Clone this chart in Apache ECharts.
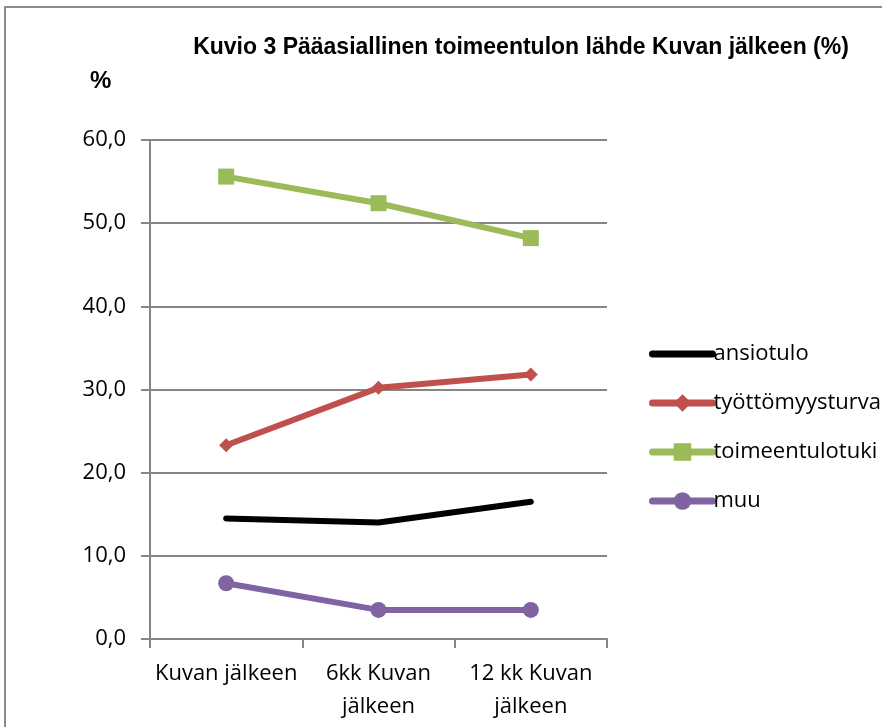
<!DOCTYPE html>
<html>
<head>
<meta charset="utf-8">
<script src="https://cdn.jsdelivr.net/npm/echarts@6/dist/echarts.min.js"></script>
<style>
  html, body { margin: 0; padding: 0; background: #fff; }
  #frame { position: absolute; left: 4px; top: 6px; width: 900px; height: 740px; border: 2px solid #8c8c8c; box-sizing: border-box; }
  #app { position: absolute; left: 0; top: 0; width: 882px; height: 727px; }
</style>
</head>
<body>
<div id="frame"></div>
<div id="app"></div>
<script>
const categories = ['Kuvan jälkeen', '6kk Kuvan\njälkeen', '12 kk Kuvan\njälkeen'];
const ansiotulo = [14.5, 14.0, 16.5];
const tyottomyysturva = [23.3, 30.2, 31.8];
const toimeentulotuki = [55.6, 52.4, 48.2];
const muu = [6.7, 3.5, 3.5];

const chart = echarts.init(document.getElementById('app'));

const font = 'Open Sans, Liberation Sans, sans-serif';
const axisGray = '#868686';

function line(name, data, color, symbol, size) {
  return {
    name: name,
    type: 'line',
    data: data,
    symbol: symbol,
    symbolSize: size,
    showSymbol: symbol !== 'none',
    lineStyle: { color: color, width: 6, cap: 'round' },
    itemStyle: { color: color },
    emphasis: { disabled: true },
    animation: false
  };
}

chart.setOption({
  animation: false,
  title: [
    {
      text: 'Kuvio 3 Pääasiallinen toimeentulon lähde Kuvan jälkeen (%)',
      left: 516, top: 31, textAlign: 'center',
      textStyle: { fontFamily: 'Liberation Sans, Arial, sans-serif', fontWeight: 'bold', fontSize: 23, color: '#000' }
    },
    {
      text: '%',
      left: 85, top: 64,
      textStyle: { fontFamily: 'Liberation Sans, Arial, sans-serif', fontWeight: 'bold', fontSize: 24, color: '#000' }
    }
  ],
  legend: {
    orient: 'vertical',
    left: 644, top: 338,
    itemGap: 27,
    itemWidth: 60, itemHeight: 22,
    lineStyle: { width: 7 },
    textStyle: { fontFamily: font, fontSize: 22, color: '#000', padding: [0, 0, 0, -4] },
    data: [
      { name: 'ansiotulo', itemStyle: { opacity: 0 } },
      'työttömyysturva', 'toimeentulotuki', 'muu'
    ]
  },
  grid: { left: 150, right: 275, top: 140, bottom: 88 },
  xAxis: {
    type: 'category',
    data: categories,
    boundaryGap: true,
    axisLine: { lineStyle: { color: axisGray, width: 2 } },
    axisTick: { show: true, length: 9, inside: false, lineStyle: { color: axisGray, width: 2 } },
    axisLabel: { fontFamily: font, fontSize: 22, color: '#000', margin: 18, lineHeight: 33, interval: 0 }
  },
  yAxis: {
    type: 'value',
    min: 0, max: 60, interval: 10,
    axisLine: { show: true, lineStyle: { color: axisGray, width: 2 } },
    axisTick: { show: true, length: 9, lineStyle: { color: axisGray, width: 2 } },
    splitLine: { lineStyle: { color: axisGray, width: 2 } },
    axisLabel: {
      fontFamily: font, fontSize: 22, color: '#000', margin: 24,
      formatter: v => v.toFixed(1).replace('.', ',')
    }
  },
  series: [
    line('ansiotulo', ansiotulo, '#000000', 'none', 0),
    line('työttömyysturva', tyottomyysturva, '#C0504D', 'diamond', 14),
    line('toimeentulotuki', toimeentulotuki, '#9BBB59', 'rect', 16),
    line('muu', muu, '#8064A2', 'circle', 16)
  ]
});
</script>
</body>
</html>
